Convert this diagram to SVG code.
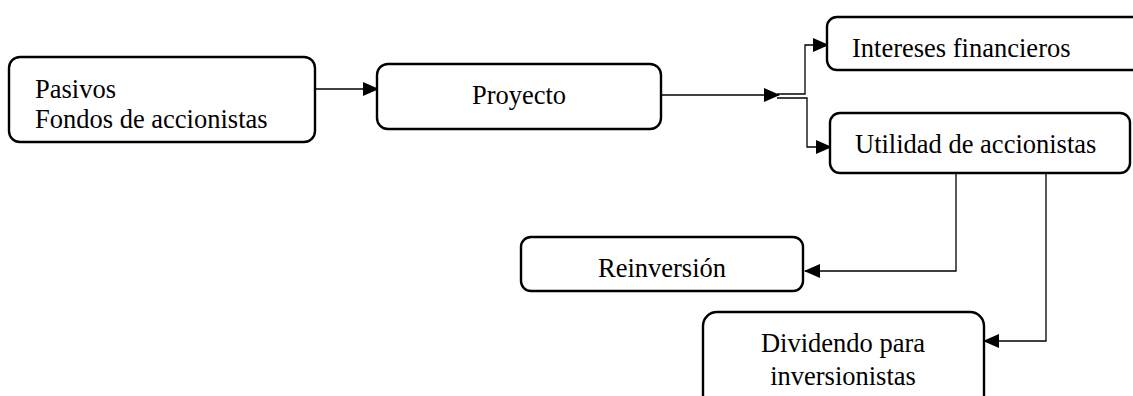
<svg xmlns="http://www.w3.org/2000/svg" width="1133" height="396" viewBox="0 0 1133 396">
  <style>
    .box { fill: #ffffff; stroke: #000000; stroke-width: 2.4; }
    .lbl { font-family: "Liberation Serif", "Times New Roman", serif; font-size: 26.5px; fill: #000000; }
    .wire { fill: none; stroke: #000000; stroke-width: 1.3; }
  </style>
  <defs>
    <marker id="arr" markerWidth="16" markerHeight="14" refX="15" refY="7" orient="auto" markerUnits="userSpaceOnUse">
      <path d="M0,0 L16,7 L0,14 Z" fill="#000000"/>
    </marker>
  </defs>
  <rect width="1133" height="396" fill="#ffffff"/>

  <!-- flow lines between the boxes -->
  <g id="connectors">
    <path class="wire" d="M315,89 L378,89" marker-end="url(#arr)"/>
    <path class="wire" d="M661,95 L779,95" marker-end="url(#arr)"/>
    <path class="wire" d="M777,94 L805,94 L805,45 L828,45" marker-end="url(#arr)"/>
    <path class="wire" d="M777,98 L807,98 L807,147 L831,147" marker-end="url(#arr)"/>
    <path class="wire" d="M956,173 L956,271 L805,271" marker-end="url(#arr)"/>
    <path class="wire" d="M1046,173 L1046,341 L984,341" marker-end="url(#arr)"/>
  </g>

  <g id="pasivos">
    <rect class="box" x="9" y="57" width="306" height="85" rx="11"/>
    <text class="lbl" x="35" y="98">Pasivos</text>
    <text class="lbl" x="35" y="128">Fondos de accionistas</text>
  </g>

  <g id="proyecto">
    <rect class="box" x="377" y="64" width="284" height="65" rx="11"/>
    <text class="lbl" x="519" y="104" text-anchor="middle">Proyecto</text>
  </g>

  <g id="intereses">
    <rect class="box" x="827" y="17" width="320" height="53" rx="10"/>
    <text class="lbl" x="852" y="57">Intereses financieros</text>
  </g>

  <g id="utilidad">
    <rect class="box" x="830" y="113" width="300" height="60" rx="10"/>
    <text class="lbl" x="855" y="153">Utilidad de accionistas</text>
  </g>

  <g id="reinversion">
    <rect class="box" x="521" y="237" width="282" height="54" rx="10"/>
    <text class="lbl" x="662" y="277" text-anchor="middle">Reinversión</text>
  </g>

  <g id="dividendo">
    <rect class="box" x="703" y="312" width="281" height="110" rx="14"/>
    <text class="lbl" x="843" y="352" text-anchor="middle">Dividendo para</text>
    <text class="lbl" x="843" y="385" text-anchor="middle">inversionistas</text>
  </g>
</svg>
